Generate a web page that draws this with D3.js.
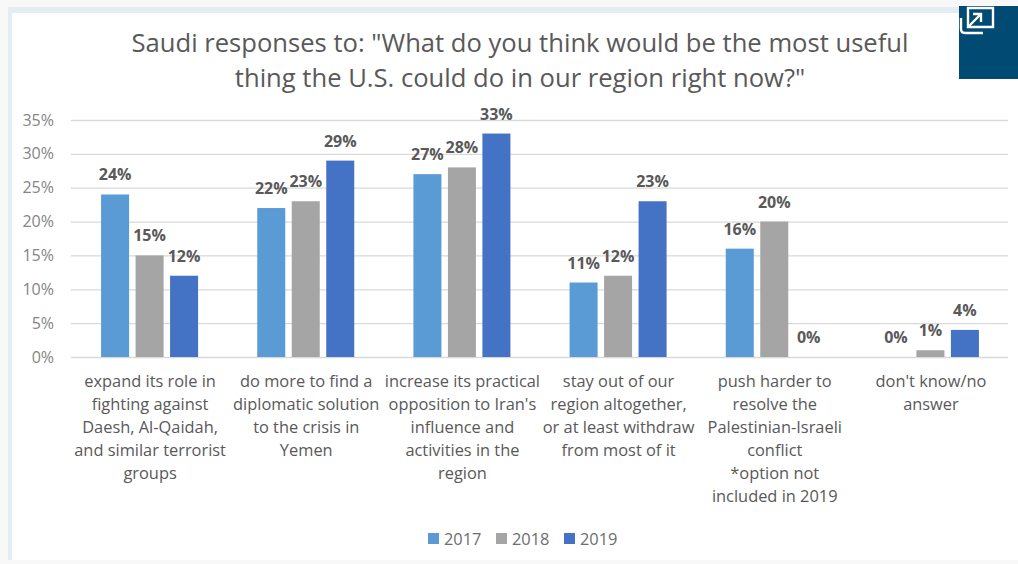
<!DOCTYPE html>
<html>
<head>
<meta charset="utf-8">
<script src="https://cdn.jsdelivr.net/npm/d3@7"></script>
<style>
html,body{margin:0;padding:0;background:#f8f8f8;}
svg{display:block;font-family:"Open Sans",sans-serif;}
</style>
</head>
<body>
<svg id="chart" width="1018" height="564"></svg>
<script>
const categories = [
  ["expand its role in","fighting against","Daesh, Al-Qaidah,","and similar terrorist","groups"],
  ["do more to find a","diplomatic solution","to the crisis in","Yemen"],
  ["increase its practical","opposition to Iran's","influence and","activities in the","region"],
  ["stay out of our","region altogether,","or at least withdraw","from most of it"],
  ["push harder to","resolve the","Palestinian-Israeli","conflict","*option not","included in 2019"],
  ["don't know/no","answer"]
];
const years = ["2017","2018","2019"];
const values2017 = [24,22,27,11,16,0];
const values2018 = [15,23,28,12,20,1];
const values2019 = [12,29,33,23,0,4];
const yTicks = [0,5,10,15,20,25,30,35];
const titleLines = ["Saudi responses to: \"What do you think would be the most useful","thing the U.S. could do in our region right now?\""];
const yearColors = ["#5b9bd5","#a5a5a5","#4472c4"];

const seriesByYear = [values2017, values2018, values2019];
const svg = d3.select("#chart");

// Card behind the chart
svg.append("rect").attr("x",8).attr("y",7).attr("width",1010).attr("height",553).attr("fill","#e4edf2");
svg.append("rect").attr("x",12).attr("y",13).attr("width",1006).attr("height",547).attr("fill","#ffffff");

const x = d3.scaleBand().domain(d3.range(categories.length)).range([71,1008]);
const xSeries = d3.scaleBand().domain(d3.range(years.length)).range([-48,49]).paddingInner(0.188).paddingOuter(0);
const y = d3.scaleLinear().domain([0,35]).range([357,120]);

// Title
svg.append("g").selectAll("text").data(titleLines).join("text")
  .attr("x",520).attr("y",(d,i)=>52+i*35)
  .attr("text-anchor","middle").attr("font-size",25.6).attr("fill","#595959")
  .text(d=>d);

// Gridlines and value axis labels
const axis = d3.axisLeft(y).tickValues(yTicks).tickFormat(d=>d+"%").tickSize(-937).tickPadding(17);
const gAxis = svg.append("g").attr("transform","translate(71,0)").call(axis);
gAxis.select(".domain").remove();
gAxis.selectAll(".tick line").attr("stroke","#d9d9d9").attr("stroke-width",1.3);
gAxis.selectAll(".tick text").attr("font-size",16).attr("fill","#858585").attr("font-family","'Open Sans',sans-serif");

// Bars and their value labels
const groups = svg.append("g").selectAll("g").data(categories).join("g")
  .attr("transform",(d,i)=>`translate(${x(i)+x.bandwidth()/2},0)`);
years.forEach((yr,s)=>{
  groups.append("rect")
    .attr("x",xSeries(s)).attr("width",xSeries.bandwidth())
    .attr("y",(d,i)=>y(seriesByYear[s][i]))
    .attr("height",(d,i)=>y(0)-y(seriesByYear[s][i]))
    .attr("fill",yearColors[s]);
  groups.append("text")
    .attr("x",xSeries(s)+xSeries.bandwidth()/2)
    .attr("y",(d,i)=>y(seriesByYear[s][i])-14)
    .attr("text-anchor","middle").attr("font-size",16).attr("font-weight",700).attr("fill","#595959")
    .text((d,i)=>seriesByYear[s][i]+"%");
});

// Category labels
groups.each(function(lines){
  d3.select(this).append("g").selectAll("text").data(lines).join("text")
    .attr("x",1).attr("y",(d,i)=>387+i*23)
    .attr("text-anchor","middle").attr("font-size",16.4).attr("fill","#595959")
    .text(d=>d);
});

// Legend
const legendX = d3.scalePoint().domain(years).range([428,564]);
const legend = svg.append("g").selectAll("g").data(years).join("g")
  .attr("transform",d=>`translate(${legendX(d)},0)`);
legend.append("rect").attr("y",533).attr("width",11).attr("height",11).attr("fill",(d,i)=>yearColors[i]);
legend.append("text").attr("x",16).attr("y",544.5).attr("font-size",16.4).attr("fill","#6e6e6e").text(d=>d);

// Expand badge in the top corner
svg.append("rect").attr("x",959).attr("y",6).attr("width",59).attr("height",73).attr("fill","#004a73");
const badge = svg.append("g").attr("fill","none").attr("stroke","#ffffff").attr("stroke-width",2.4);
badge.append("path").attr("d","M968 20V8H993V27H968V20");
badge.append("path").attr("d","M961 18V29Q961 33 965 33H983");
badge.append("path").attr("d","M969 26L980 15M973 14H981V22");
</script>
</body>
</html>
